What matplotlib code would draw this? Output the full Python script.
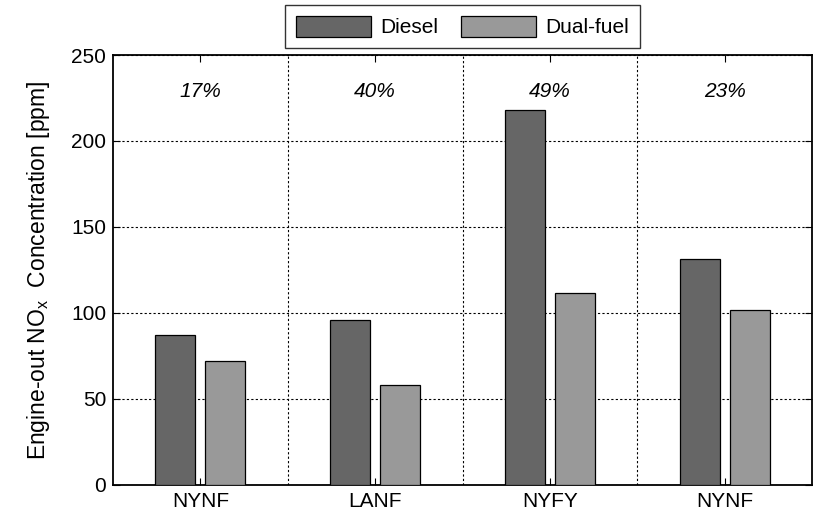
import matplotlib.pyplot as plt
import numpy as np

plt.rcParams['font.family'] = ['Liberation Sans', 'DejaVu Sans']

categories = ['NYNF', 'LANF', 'NYFY', 'NYNF']
diesel = [87, 96, 218, 131.5]
dual_fuel = [72, 58, 111.5, 102]
reductions = ['17%', '40%', '49%', '23%']

x = np.arange(1, len(categories) + 1)
w = 0.229
off = 0.143
fs = 15

fig = plt.figure(figsize=(8.15, 5.15), dpi=100)
ax = fig.add_axes([0.1387, 0.0583, 0.8576, 0.8349])

ax.bar(x - off, diesel, w, color='#666666', edgecolor='black', linewidth=0.9,
       label='Diesel', zorder=3)
ax.bar(x + off, dual_fuel, w, color='#999999', edgecolor='black', linewidth=0.9,
       label='Dual-fuel', zorder=3)

for xi, r in zip(x, reductions):
    ax.text(xi, 229, r, ha='center', va='center', fontsize=fs, style='italic')

ax.set_xlim(0.5, 4.5)
ax.set_ylim(0, 250)
ax.set_xticks(x)
ax.set_xticklabels(categories, fontsize=fs)
ax.set_xticks([1.5, 2.5, 3.5], minor=True)
ax.set_yticks([0, 50, 100, 150, 200, 250])
ax.tick_params(axis='y', labelsize=fs, direction='in', length=5, right=True, pad=5)
ax.tick_params(axis='x', which='major', direction='in', length=5, top=True, pad=5)
ax.tick_params(axis='x', which='minor', length=0)
ax.grid(True, axis='y', which='major', linestyle=(0, (2, 2)), color='black', linewidth=0.8)
ax.grid(True, axis='x', which='minor', linestyle=(0, (2, 2)), color='black', linewidth=0.8)
ax.grid(False, axis='x', which='major')
ax.set_axisbelow(True)
for s in ax.spines.values():
    s.set_linewidth(1.3)

ax.set_ylabel('Engine-out NO$_\\mathregular{x}$  Concentration [ppm]', fontsize=16.5,
              labelpad=14)

ax.legend(loc='lower center', bbox_to_anchor=(0.5, 1.0), ncol=2, frameon=True,
          fancybox=False, edgecolor='black', fontsize=fs, handlelength=3.6,
          handleheight=1.15, columnspacing=1.1, borderpad=0.5, handletextpad=0.45,
          borderaxespad=0.35)

fig.savefig('out.png', dpi=100)
